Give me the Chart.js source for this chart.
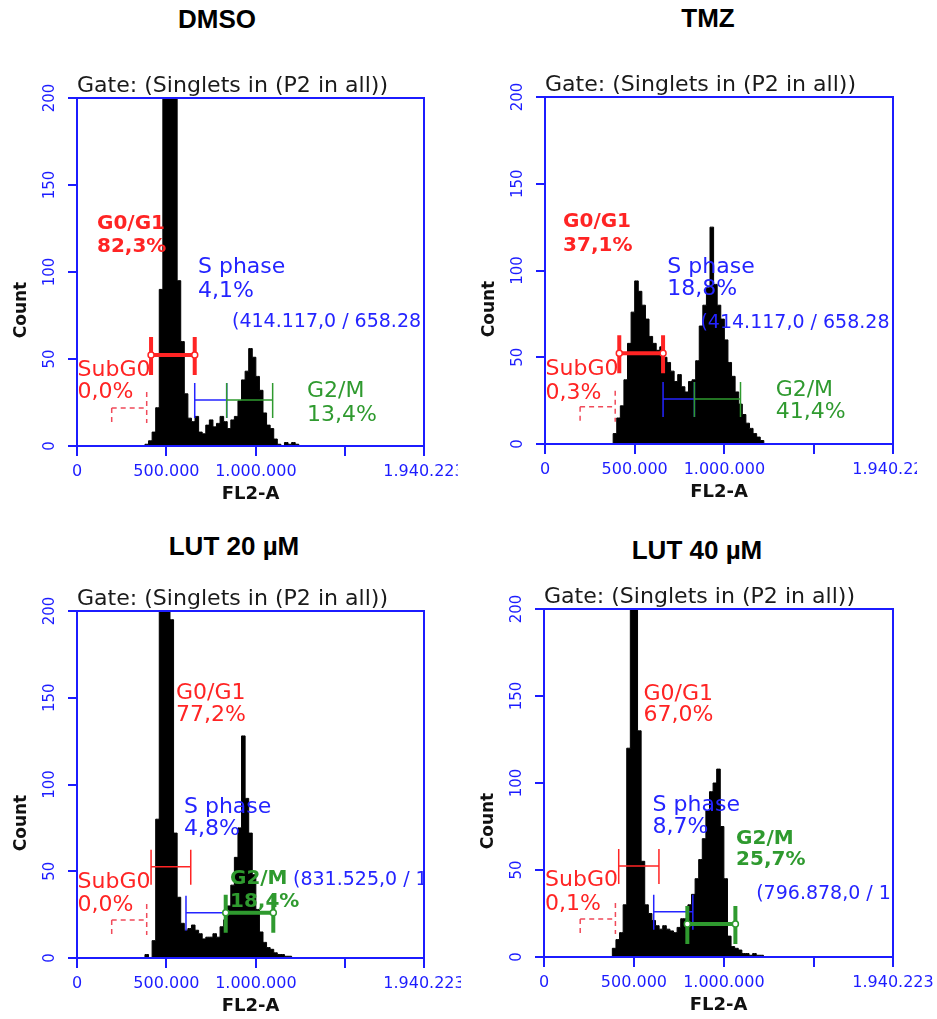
<!DOCTYPE html>
<html>
<head>
<meta charset="utf-8">
<title>Cell cycle – FL2-A histograms</title>
<script src="https://cdn.jsdelivr.net/npm/chart.js@4.4.1/dist/chart.umd.min.js"></script>
<style>
  body { margin: 0; background: #fff; }
  #page { position: relative; width: 937px; height: 1019px; overflow: hidden; }
  canvas { position: absolute; }
  .title {
    position: absolute; transform: translate(-50%, -50%);
    font: bold 26px "Liberation Sans", Arial, sans-serif; line-height: 1;
    white-space: nowrap; color: #000;
  }
</style>
</head>
<body>
<div id="page">
  <div class="title" style="left:217px; top:19px">DMSO</div>
  <div class="title" style="left:708px; top:18px">TMZ</div>
  <div class="title" style="left:234px; top:546px">LUT 20 µM</div>
  <div class="title" style="left:697px; top:550px">LUT 40 µM</div>
  <canvas id="dmso" width="458" height="510" style="left:0; top:0"></canvas>
  <canvas id="tmz" width="449" height="510" style="left:468px; top:0"></canvas>
  <canvas id="lut20" width="461" height="509" style="left:0; top:510px"></canvas>
  <canvas id="lut40" width="469" height="509" style="left:468px; top:510px"></canvas>
</div>
<script>
// --- 1. DATA ---

// channel centres, 20.000 wide
const binCentre = [
  370000, 390000, 410000, 430000, 450000, 470000, 490000, 510000, 530000, 550000,
  570000, 590000, 610000, 630000, 650000, 670000, 690000, 710000, 730000, 750000,
  770000, 790000, 810000, 830000, 850000, 870000, 890000, 910000, 930000, 950000,
  970000, 990000, 1010000, 1030000, 1050000, 1070000, 1090000, 1110000, 1130000, 1150000,
  1170000, 1190000, 1210000, 1230000, 1250000
];

// counts per channel (values above 200 run off the top of the plot)
const countDMSO = [0, 1, 3, 8, 22, 90, 215, 260, 250, 205, 95, 60, 30, 16, 14, 17, 8, 7, 12, 15,
  11, 13, 17, 14, 10, 15, 17, 26, 38, 43, 56, 51, 40, 32, 19, 12, 10, 4, 1, 0, 2, 1, 2, 1, 0];
const countTMZ = [0, 6, 15, 22, 37, 58, 76, 94, 88, 80, 72, 62, 58, 54, 56, 50, 47, 42, 36, 40,
  33, 30, 36, 37, 48, 68, 80, 90, 125, 92, 80, 72, 60, 47, 39, 30, 23, 17, 12, 9, 6, 4, 2, 0, 0];
const countLUT20 = [0, 2, 0, 10, 80, 230, 280, 270, 195, 72, 35, 20, 16, 17, 19, 16, 14, 11, 12, 12,
  14, 12, 18, 22, 30, 42, 58, 75, 128, 92, 72, 48, 28, 15, 9, 6, 5, 3, 2, 2, 1, 1, 0, 0, 0];
const countLUT40 = [0, 5, 10, 14, 30, 120, 260, 280, 130, 55, 30, 25, 21, 18, 16, 18, 16, 15, 14, 17,
  22, 22, 30, 36, 45, 56, 68, 84, 95, 100, 108, 75, 45, 12, 6, 5, 4, 2, 2, 1, 2, 1, 1, 0, 0];

const xTickValues = [0, 500000, 1000000, 1500000, 1940223];
const xTickLabels = ['0', '500.000', '1.000.000', '', '1.940.223'];
const yTickValues = [0, 50, 100, 150, 200];

// range gates: [from, to, level (count), kind]
const gatesDMSO = [[194000, 389700, 21.8, 'sub'], [414117, 658280, 52.3, 'R'], [658280, 837000, 26.4, 'b'], [837000, 1094000, 26.4, 'g']];
const gatesTMZ = [[195700, 391400, 21.5, 'sub'], [414117, 658280, 52.3, 'R'], [658280, 833000, 26, 'b'], [833000, 1090000, 26, 'g']];
const gatesLUT20 = [[194000, 389700, 21.9, 'sub'], [414117, 636000, 52.6, 'r'], [609400, 831525, 26.1, 'b'], [831525, 1097600, 26.1, 'G']];
const gatesLUT40 = [[201300, 397000, 21.8, 'sub'], [415400, 639000, 52.3, 'r'], [610000, 827500, 26, 'b'], [796878, 1064000, 19, 'G']];

// gate labels: [text, x, count, kind]
const labelsDMSO = [
  ['G0/G1', 111800, 128.7, 'R'], ['82,3%', 111800, 115.5, 'R'],
  ['SubG0', 3000, 44.8, 'r'], ['0,0%', 3000, 32.2, 'r'],
  ['S phase', 676500, 104, 'b'], ['4,1%', 676500, 90.2, 'b'],
  ['(414.117,0 / 658.28', 866600, 72.4, 'c'],
  ['G2/M', 1286000, 32.8, 'g'], ['13,4%', 1286000, 19, 'g']
];
const labelsTMZ = [
  ['G0/G1', 100600, 129, 'R'], ['37,1%', 100600, 115.3, 'R'],
  ['SubG0', 3000, 44.4, 'r'], ['0,3%', 3000, 30.5, 'r'],
  ['S phase', 682100, 103.2, 'b'], ['18,8%', 682100, 90.5, 'b'],
  ['(414.117,0 / 658.28', 866600, 70.9, 'c'],
  ['G2/M', 1286000, 32.3, 'g'], ['41,4%', 1286000, 19.6, 'g']
];
const labelsLUT20 = [
  ['G0/G1', 553500, 153.9, 'r'], ['77,2%', 553500, 141.2, 'r'],
  ['SubG0', 3000, 45, 'r'], ['0,0%', 3000, 31.7, 'r'],
  ['S phase', 598200, 88.2, 'b'], ['4,8%', 598200, 75.5, 'b'],
  ['G2/M', 855400, 46.7, 'G'], ['18,4%', 855400, 33.4, 'G'],
  ['(831.525,0 / 1', 1207700, 46.1, 'c']
];
const labelsLUT40 = [
  ['G0/G1', 553500, 152.3, 'r'], ['67,0%', 553500, 140.2, 'r'],
  ['SubG0', 5600, 45.4, 'r'], ['0,1%', 5600, 31.6, 'r'],
  ['S phase', 603800, 88.5, 'b'], ['8,7%', 603800, 75.9, 'b'],
  ['G2/M', 1067900, 69, 'G'], ['25,7%', 1067900, 56.9, 'G'],
  ['(796.878,0 / 1', 1179700, 37.4, 'c']
];

// --- 2. STYLES ---

const RED = '#ff2424', BLUE = '#2424ff', GREEN = '#2f9a2f', AXIS = '#1c1cff', PINK = '#f04a5a';
const FONT = '"DejaVu Sans", Verdana, sans-serif';

const MARK = {
  sub: { color: PINK, width: 1.5, dash: [5, 4] },
  r: { color: RED, width: 1.5, up: 17, down: 18 },
  R: { color: RED, width: 4, up: 18, down: 20, handles: true },
  b: { color: BLUE, width: 1.5, up: 17, down: 18 },
  g: { color: GREEN, width: 1.5, up: 17, down: 18 },
  G: { color: GREEN, width: 4, up: 18, down: 20, handles: true }
};

const TEXT = {
  r: { color: RED, size: 22, weight: '' },
  R: { color: RED, size: 20, weight: 'bold ' },
  b: { color: BLUE, size: 22, weight: '' },
  g: { color: GREEN, size: 22, weight: '' },
  G: { color: GREEN, size: 20, weight: 'bold ' },
  c: { color: BLUE, size: 19, weight: '' }
};

// --- 3. OVERLAY DRAWING ---

const drawGate = (ctx, xs, ys, gate) => {
  const [from, to, level, kind] = gate;
  const st = MARK[kind];
  const x1 = xs.getPixelForValue(from);
  const x2 = xs.getPixelForValue(to);
  const yy = ys.getPixelForValue(level);

  ctx.save();
  ctx.strokeStyle = st.color;
  ctx.lineWidth = st.width;
  ctx.setLineDash(st.dash || []);
  ctx.beginPath();
  ctx.moveTo(x1, yy);
  ctx.lineTo(x2, yy);
  if (kind === 'sub') {
    ctx.moveTo(x1, yy);
    ctx.lineTo(x1, yy + 15);
    ctx.moveTo(x2, yy - 16);
    ctx.lineTo(x2, yy + 15);
  } else {
    ctx.moveTo(x1, yy - st.up);
    ctx.lineTo(x1, yy + st.down);
    ctx.moveTo(x2, yy - st.up);
    ctx.lineTo(x2, yy + st.down);
  }
  ctx.stroke();

  if (st.handles) {
    ctx.lineWidth = 1.5;
    ctx.fillStyle = '#fff';
    [x1, x2].forEach(px => {
      ctx.beginPath();
      ctx.arc(px, yy, 3, 0, 2 * Math.PI);
      ctx.fill();
      ctx.stroke();
    });
  }
  ctx.restore();
};

const drawLabel = (ctx, xs, ys, label) => {
  const [text, xv, yv, kind] = label;
  const st = TEXT[kind];
  ctx.font = st.weight + st.size + 'px ' + FONT;
  ctx.fillStyle = st.color;
  ctx.textAlign = 'left';
  ctx.textBaseline = 'alphabetic';
  ctx.fillText(text, xs.getPixelForValue(xv), ys.getPixelForValue(yv) + 0.36 * st.size);
};

const makeOverlay = (gates, labels) => ({
  id: 'gateOverlay',
  afterDatasetsDraw(chart) {
    const { ctx, chartArea: a, scales: { x, y } } = chart;

    ctx.save();
    ctx.beginPath();
    ctx.rect(a.left, a.top, a.width, a.height);
    ctx.clip();
    gates.forEach(g => drawGate(ctx, x, y, g));
    labels.forEach(l => drawLabel(ctx, x, y, l));
    ctx.restore();

    // plot frame
    ctx.save();
    ctx.strokeStyle = AXIS;
    ctx.lineWidth = 2;
    ctx.strokeRect(a.left, a.top, a.width, a.height);
    ctx.restore();

    // gate line above the plot
    ctx.save();
    const head = 'Gate: (Singlets in (P2 in all))';
    ctx.font = '21px ' + FONT;
    ctx.fillStyle = '#1a1a1a';
    ctx.textBaseline = 'alphabetic';
    const sx = 311 / ctx.measureText(head).width;
    ctx.translate(a.left, a.top - 6);
    ctx.scale(sx, 1);
    ctx.fillText(head, 0, 0);
    ctx.restore();

    // axis titles
    ctx.save();
    ctx.fillStyle = '#111';
    ctx.textAlign = 'center';
    ctx.textBaseline = 'middle';
    ctx.font = 'bold 18px ' + FONT;
    ctx.fillText('FL2-A', (a.left + a.right) / 2, a.bottom + 48);
    ctx.translate(a.left - 55, a.top + 212);
    ctx.rotate(-Math.PI / 2);
    ctx.font = 'bold 17px ' + FONT;
    ctx.fillText('Count', 0, 0);
    ctx.restore();
  }
});

// --- 4. CHART SETUP ---

const renderPanel = (id, counts, gates, labels, box) => {
  const ctx = document.getElementById(id).getContext('2d');
  return new Chart(ctx, {
    type: 'line',
    data: {
      datasets: [{
        data: binCentre.map((x, i) => ({ x: x, y: counts[i] })),
        stepped: 'middle',
        fill: 'origin',
        backgroundColor: '#000',
        borderColor: '#000',
        borderWidth: 1,
        pointRadius: 0
      }]
    },
    options: {
      responsive: false,
      animation: false,
      events: [],
      layout: { padding: box.pad },
      plugins: { legend: { display: false }, tooltip: { enabled: false } },
      scales: {
        x: {
          type: 'linear',
          min: 0,
          max: 1940223,
          afterBuildTicks: s => { s.ticks = xTickValues.map(v => ({ value: v })); },
          afterFit: s => { s.height = box.xHeight; s.paddingLeft = 0; s.paddingRight = 0; },
          ticks: {
            autoSkip: false, maxRotation: 0, minRotation: 0, padding: 6,
            color: AXIS, font: { family: 'DejaVu Sans', size: 16, weight: 'normal' },
            callback: (v, i) => xTickLabels[i]
          },
          grid: { drawOnChartArea: false, color: AXIS, lineWidth: 2, tickLength: 10 },
          border: { color: AXIS, width: 2 }
        },
        y: {
          min: 0,
          max: 200,
          afterBuildTicks: s => { s.ticks = yTickValues.map(v => ({ value: v })); },
          afterFit: s => { s.width = box.yWidth; s.paddingTop = 0; s.paddingBottom = 0; },
          ticks: {
            autoSkip: false, minRotation: 90, maxRotation: 90, crossAlign: 'center', padding: 4,
            color: AXIS, font: { family: 'DejaVu Sans', size: 15, weight: 'normal' }
          },
          grid: { drawOnChartArea: false, color: AXIS, lineWidth: 2, tickLength: 9 },
          border: { color: AXIS, width: 2 }
        }
      }
    },
    plugins: [makeOverlay(gates, labels)]
  });
};

renderPanel('dmso', countDMSO, gatesDMSO, labelsDMSO,
  { pad: { left: 0, top: 98, right: 34, bottom: 0 }, yWidth: 77, xHeight: 64 });
renderPanel('tmz', countTMZ, gatesTMZ, labelsTMZ,
  { pad: { left: 0, top: 97, right: 24, bottom: 0 }, yWidth: 77, xHeight: 66 });
renderPanel('lut20', countLUT20, gatesLUT20, labelsLUT20,
  { pad: { left: 0, top: 101, right: 37, bottom: 0 }, yWidth: 77, xHeight: 61 });
renderPanel('lut40', countLUT40, gatesLUT40, labelsLUT40,
  { pad: { left: 0, top: 99, right: 44, bottom: 0 }, yWidth: 76, xHeight: 62 });
</script>
</body>
</html>
